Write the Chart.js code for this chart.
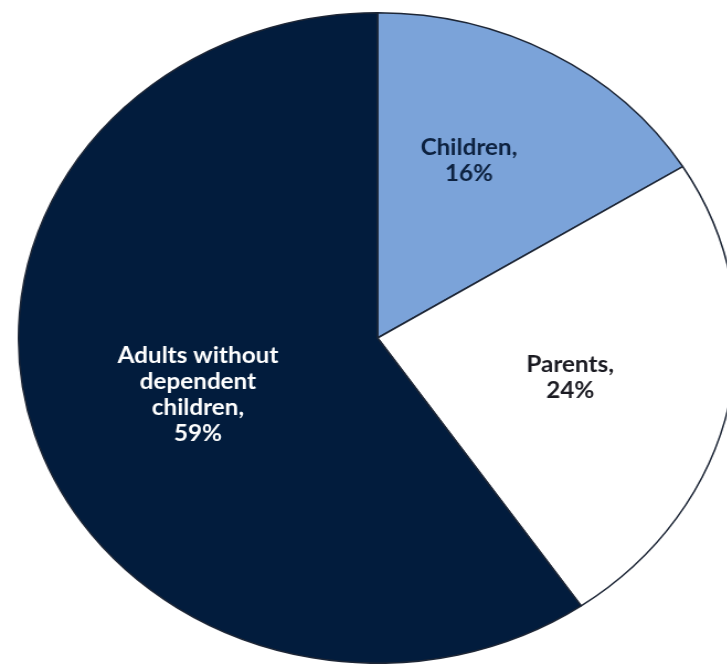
<!DOCTYPE html>
<html>
<head>
<meta charset="utf-8">
<script src="https://cdn.jsdelivr.net/npm/chart.js@4.4.1/dist/chart.umd.min.js"></script>
<style>
  html, body { margin: 0; padding: 0; background: #ffffff; overflow: hidden; }
  #wrap { width: 727px; height: 664px; overflow: hidden; position: relative; }
  /* the original picture is stretched sideways, so the pie is an ellipse */
  #pie { position: absolute; left: 0; top: 0; transform: scaleX(1.104); transform-origin: 0 0; }
</style>
</head>
<body>
<div id="wrap">
  <canvas id="pie" width="700" height="664"></canvas>
</div>
<script>
// data
let categories = ["Children", "Parents", "Adults without dependent children"];
let shares = [16, 24, 59];
let labelLines = [["Children,"], ["Parents,"], ["Adults without", "dependent", "children,"]];

// styles
let sliceColours = ["#7ba3d9", "#ffffff", "#021c3d"];
let textColours = ["#0d2240", "#1b1b22", "#ffffff"];
let labelRadius = [0.6, 0.55, 0.53]; // fraction of the radius
let labelTurn = [-4, 1, -2]; // degrees off the slice middle
let lineHeight = 26;

let sliceLabels = {
    id: "sliceLabels",
    afterDatasetsDraw(chart) {
        let ctx = chart.ctx;
        let arcs = chart.getDatasetMeta(0).data;
        ctx.save();
        ctx.font = "bold 22px Lato";
        ctx.textAlign = "center";
        ctx.textBaseline = "middle";
        arcs.forEach((arc, i) => {
            let p = arc.getProps(["x", "y", "startAngle", "endAngle", "outerRadius"], true);
            let mid = (p.startAngle + p.endAngle) / 2 + labelTurn[i] * Math.PI / 180;
            let r = p.outerRadius * labelRadius[i];
            let x = p.x + Math.cos(mid) * r;
            let y = p.y + Math.sin(mid) * r;
            let lines = labelLines[i].concat([shares[i] + "%"]);
            let top = y - (lines.length - 1) * lineHeight / 2;
            ctx.fillStyle = textColours[i];
            lines.forEach((line, j) => {
                ctx.fillText(line, x, top + j * lineHeight);
            });
        });
        ctx.restore();
    }
};

let ctx = document.getElementById("pie").getContext("2d");
let chart = new Chart(ctx, {
    type: "pie",
    data: {
        labels: categories,
        datasets: [{
            data: shares,
            backgroundColor: sliceColours,
            borderColor: "#1d2636",
            borderWidth: 1.5
        }]
    },
    options: {
        responsive: false,
        devicePixelRatio: 1,
        animation: false,
        layout: { padding: { left: 0, right: 16, top: 12, bottom: 0 } },
        plugins: {
            legend: { display: false },
            tooltip: { enabled: false }
        }
    },
    plugins: [sliceLabels]
});
</script>
</body>
</html>
